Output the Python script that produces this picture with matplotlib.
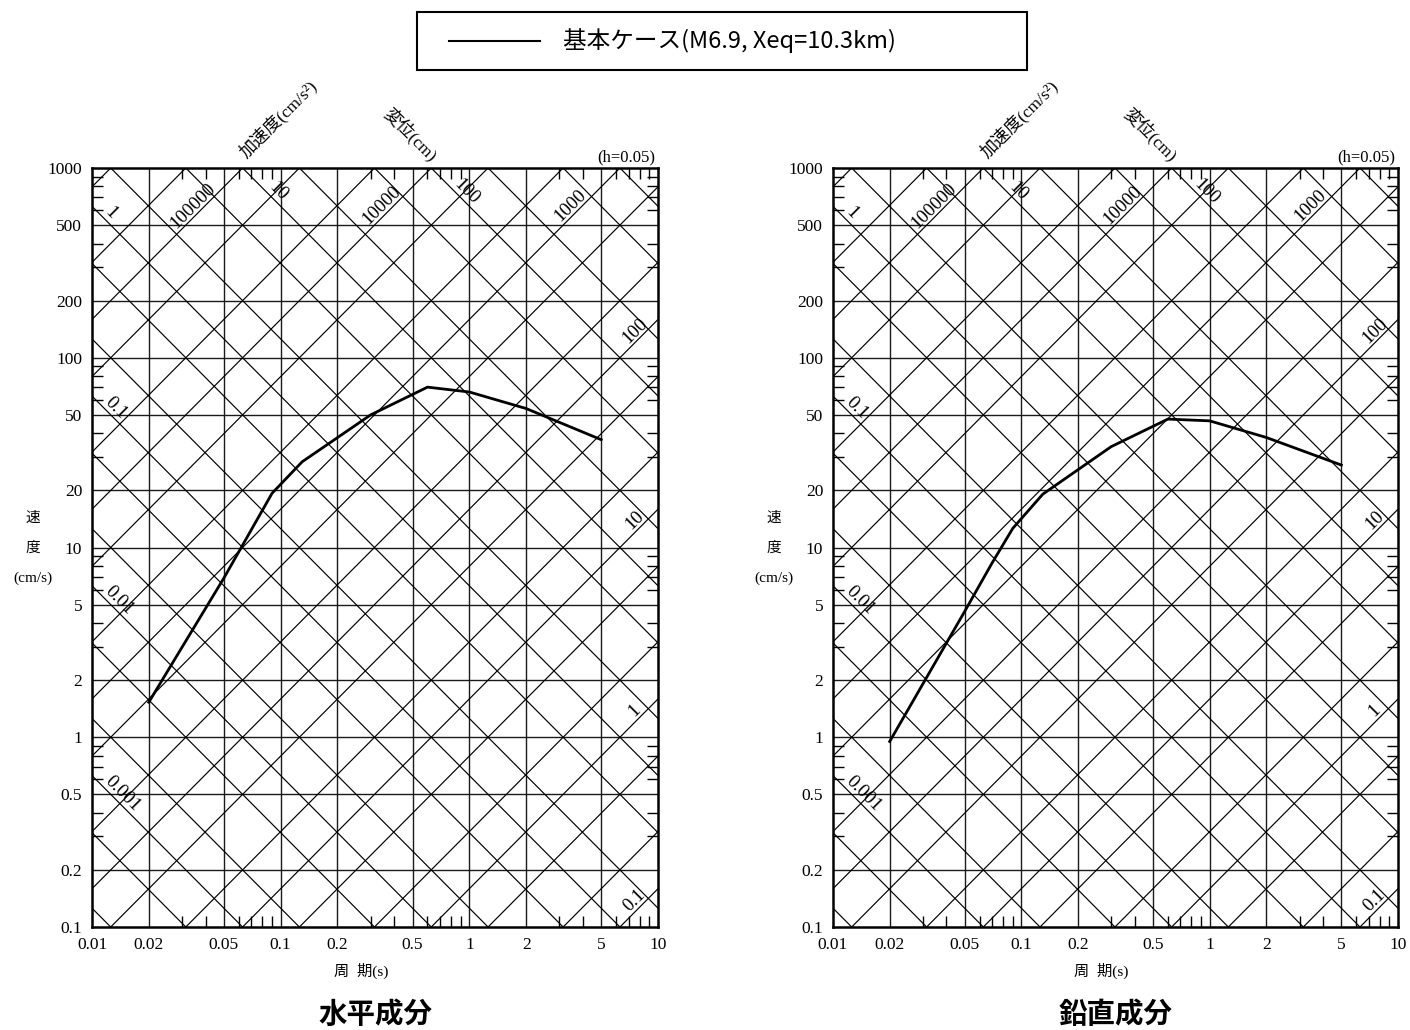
import numpy as np
import matplotlib
matplotlib.use('Agg')
import matplotlib.pyplot as plt
from matplotlib.lines import Line2D
from matplotlib.patches import Rectangle
from matplotlib.ticker import FixedLocator, NullFormatter, FixedFormatter

plt.rcParams['font.family'] = ['Liberation Serif', 'Noto Sans CJK JP']
CJK = ['Noto Sans CJK JP', 'DejaVu Sans']

# ---------------- data ----------------
periods_h = [0.02, 0.05, 0.09, 0.13, 0.3, 0.6, 1.0, 2.0, 5.0]
vel_h = [1.53, 6.9, 19.3, 28.3, 50.0, 70.0, 66.0, 54.0, 37.0]
periods_v = [0.02, 0.05, 0.07, 0.09, 0.13, 0.3, 0.6, 1.0, 2.0, 5.0]
vel_v = [0.95, 4.6, 8.3, 12.6, 19.1, 34.0, 47.5, 46.5, 38.0, 27.2]

series_label = '基本ケース(M6.9, Xeq=10.3km)'
panel_titles = ['水平成分', '鉛直成分']

x_ticks = [0.01, 0.02, 0.05, 0.1, 0.2, 0.5, 1, 2, 5, 10]
x_ticklabels = ['0.01', '0.02', '0.05', '0.1', '0.2', '0.5', '1', '2', '5', '10']
y_ticks = [0.1, 0.2, 0.5, 1, 2, 5, 10, 20, 50, 100, 200, 500, 1000]
y_ticklabels = ['0.1', '0.2', '0.5', '1', '2', '5', '10', '20', '50', '100', '200', '500', '1000']
minor_subs = [3, 4, 6, 7, 8, 9]

# tripartite guide lines (acceleration cm/s^2, displacement cm)
acc_values = [0.1, 0.2, 0.5, 1, 2, 5, 10, 20, 50, 100, 200, 500, 1000, 2000, 5000,
              10000, 20000, 50000, 100000, 200000, 500000]
disp_values = [0.0002, 0.0005, 0.001, 0.002, 0.005, 0.01, 0.02, 0.05, 0.1, 0.2, 0.5,
               1, 2, 5, 10, 20, 50, 100, 200, 500, 1000]
acc_top_labels = ['100000', '10000', '1000']
acc_right_labels = ['100', '10', '1', '0.1']
disp_left_labels = ['1', '0.1', '0.01', '0.001']
disp_top_labels = ['10', '100']

TWO_PI = 2 * np.pi
XMIN, XMAX = 0.01, 10
YMIN, YMAX = 0.1, 1000

fig = plt.figure(figsize=(14.1, 10.3), dpi=100)
axes_rects = [[92 / 1410, 1 - 927 / 1030, 566 / 1410, 759 / 1030],
              [833 / 1410, 1 - 927 / 1030, 565 / 1410, 759 / 1030]]

minor_x = [s * 10.0 ** e for e in range(-2, 1) for s in minor_subs]
minor_y = [s * 10.0 ** e for e in range(-1, 3) for s in minor_subs]

for rect, periods, vels, title in zip(axes_rects, [periods_h, periods_v],
                                      [vel_h, vel_v], panel_titles):
    ax = fig.add_axes(rect)
    ax.set_xscale('log')
    ax.set_yscale('log')
    ax.set_xlim(XMIN, XMAX)
    ax.set_ylim(YMIN, YMAX)

    # horizontal / vertical grid
    for xv in x_ticks[1:-1]:
        ax.axvline(xv, color='#1a1a1a', lw=1.0, zorder=1)
    for yv in y_ticks[1:-1]:
        ax.axhline(yv, color='#1a1a1a', lw=1.0, zorder=1)

    T = np.logspace(-2.5, 1.5, 50)
    for a in acc_values:
        ax.plot(T, a * T / TWO_PI, color='black', lw=0.85, zorder=1)
    for d in disp_values:
        ax.plot(T, TWO_PI * d / T, color='black', lw=0.85, zorder=1)

    # labels on guide lines
    lab_kw = dict(fontsize=13.5, rotation_mode='anchor', zorder=3,
                  family=['Liberation Serif'])
    for lab in acc_top_labels:
        a = float(lab)
        v = 590.0
        ax.text(TWO_PI * v / a, v, lab, rotation=45, ha='center', va='bottom', **lab_kw)
    for lab in acc_right_labels:
        a = float(lab)
        t = 8.1
        ax.text(t, a * t / TWO_PI, lab, rotation=45, ha='center', va='bottom', **lab_kw)
    for lab in disp_left_labels:
        d = float(lab)
        t = 0.0112
        ax.text(t, TWO_PI * d / t, lab, rotation=-45, ha='left', va='bottom', **lab_kw)
    for lab in disp_top_labels:
        d = float(lab)
        v = 700.0
        ax.text(d * TWO_PI / v, v, lab, rotation=-45, ha='center', va='bottom', **lab_kw)

    # data line
    ax.plot(periods, vels, color='black', lw=2.0, zorder=4)

    # ticks
    ax.xaxis.set_major_locator(FixedLocator(x_ticks))
    ax.xaxis.set_major_formatter(FixedFormatter(x_ticklabels))
    ax.yaxis.set_major_locator(FixedLocator(y_ticks))
    ax.yaxis.set_major_formatter(FixedFormatter(y_ticklabels))
    ax.xaxis.set_minor_locator(FixedLocator(minor_x))
    ax.yaxis.set_minor_locator(FixedLocator(minor_y))
    ax.xaxis.set_minor_formatter(NullFormatter())
    ax.yaxis.set_minor_formatter(NullFormatter())
    ax.tick_params(which='major', length=0, labelsize=12.5, pad=7)
    ax.tick_params(which='minor', direction='in', length=8, width=1.0,
                   top=True, right=True, bottom=True, left=True)
    for sp in ax.spines.values():
        sp.set_linewidth(1.8)

    # axis titles
    ax.text(-0.104, 0.539, '速', transform=ax.transAxes, ha='center', va='center',
            fontsize=10.5, family=CJK)
    ax.text(-0.104, 0.499, '度', transform=ax.transAxes, ha='center', va='center',
            fontsize=10.5, family=CJK)
    ax.text(-0.104, 0.460, '(cm/s)', transform=ax.transAxes, ha='center', va='center',
            fontsize=11)
    ax.text(0.475, -0.058, '周  期(s)', transform=ax.transAxes, ha='center', va='center',
            fontsize=11)
    ax.text(0.995, 1.0145, '(h=0.05)', transform=ax.transAxes, ha='right', va='center',
            fontsize=12)
    ax.text(0.3286, 1.0646, '加速度(cm/s²)', transform=ax.transAxes, ha='center',
            va='center', rotation=45, fontsize=12.5)
    ax.text(0.562, 1.0448, '変位(cm)', transform=ax.transAxes, ha='center',
            va='center', rotation=-45, fontsize=12.5)
    ax.text(0.5, -0.116, title, transform=ax.transAxes, ha='center', va='center',
            fontsize=20.5, family=CJK, weight='bold')

# legend box
fig.patches.append(Rectangle((417 / 1410, 1 - 70 / 1030), 610 / 1410, 58 / 1030,
                             transform=fig.transFigure, fill=False,
                             edgecolor='black', lw=1.5))
fig.lines.append(Line2D([449 / 1410, 540 / 1410], [1 - 41 / 1030, 1 - 41 / 1030],
                        transform=fig.transFigure, color='black', lw=1.5))
fig.text(563 / 1410, 1 - 41 / 1030, series_label, ha='left', va='center',
         fontsize=17, family=CJK)

fig.savefig('out.png', dpi=100)
